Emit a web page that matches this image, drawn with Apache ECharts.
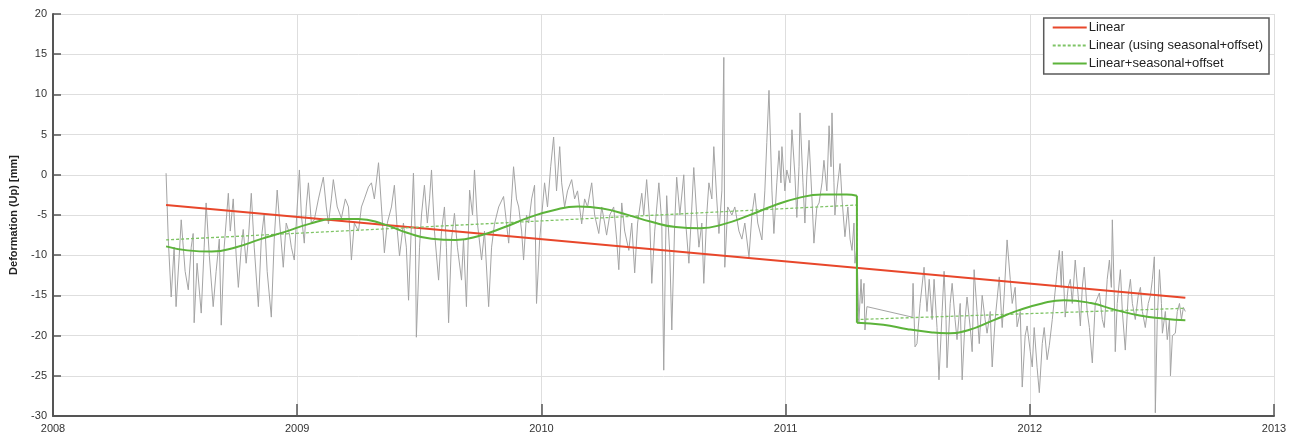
<!DOCTYPE html>
<html><head><meta charset="utf-8">
<script src="https://cdn.jsdelivr.net/npm/echarts@6/dist/echarts.min.js"></script>
<style>html,body{margin:0;padding:0;background:#fff}#c{width:1298px;height:437px}</style>
</head><body><div id="c"></div>
<script>
const noiseT = [2008.463,2008.472,2008.484,2008.496,2008.504,2008.517,2008.525,2008.541,2008.554,2008.566,2008.574,2008.578,2008.590,2008.607,2008.619,2008.627,2008.640,2008.656,2008.668,2008.681,2008.689,2008.701,2008.718,2008.726,2008.738,2008.750,2008.759,2008.771,2008.779,2008.791,2008.800,2008.812,2008.824,2008.841,2008.853,2008.865,2008.877,2008.894,2008.906,2008.918,2008.931,2008.943,2008.955,2008.968,2008.976,2008.988,2009.000,2009.009,2009.017,2009.029,2009.037,2009.046,2009.058,2009.070,2009.087,2009.107,2009.119,2009.128,2009.140,2009.148,2009.164,2009.181,2009.197,2009.210,2009.222,2009.234,2009.251,2009.263,2009.275,2009.292,2009.304,2009.316,2009.333,2009.345,2009.357,2009.369,2009.386,2009.398,2009.410,2009.419,2009.435,2009.447,2009.456,2009.468,2009.476,2009.484,2009.488,2009.501,2009.509,2009.521,2009.533,2009.542,2009.550,2009.562,2009.579,2009.591,2009.603,2009.611,2009.620,2009.632,2009.644,2009.656,2009.673,2009.681,2009.693,2009.702,2009.706,2009.718,2009.726,2009.738,2009.755,2009.767,2009.784,2009.796,2009.808,2009.825,2009.845,2009.857,2009.866,2009.878,2009.886,2009.898,2009.907,2009.919,2009.927,2009.939,2009.948,2009.960,2009.972,2009.980,2009.993,2010.013,2010.025,2010.038,2010.050,2010.062,2010.075,2010.083,2010.095,2010.107,2010.124,2010.136,2010.148,2010.165,2010.177,2010.189,2010.206,2010.218,2010.235,2010.247,2010.259,2010.267,2010.280,2010.296,2010.308,2010.317,2010.329,2010.341,2010.358,2010.370,2010.382,2010.394,2010.411,2010.419,2010.431,2010.444,2010.452,2010.464,2010.481,2010.493,2010.501,2010.509,2010.513,2010.526,2010.534,2010.546,2010.554,2010.567,2010.583,2010.591,2010.604,2010.616,2010.624,2010.636,2010.645,2010.657,2010.665,2010.677,2010.686,2010.698,2010.706,2010.718,2010.727,2010.739,2010.747,2010.751,2010.763,2010.780,2010.792,2010.809,2010.821,2010.833,2010.850,2010.862,2010.874,2010.886,2010.903,2010.915,2010.923,2010.932,2010.944,2010.952,2010.964,2010.973,2010.981,2010.985,2010.997,2011.005,2011.018,2011.026,2011.038,2011.046,2011.055,2011.059,2011.071,2011.079,2011.087,2011.096,2011.108,2011.116,2011.128,2011.137,2011.149,2011.157,2011.169,2011.178,2011.186,2011.190,2011.198,2011.202,2011.210,2011.223,2011.231,2011.243,2011.255,2011.264,2011.272,2011.280,2011.284,2011.292,2011.300,2011.309,2011.313,2011.321,2011.325,2011.333,2011.518,2011.522,2011.530,2011.538,2011.551,2011.567,2011.579,2011.588,2011.600,2011.608,2011.620,2011.628,2011.641,2011.649,2011.657,2011.661,2011.674,2011.682,2011.694,2011.702,2011.715,2011.723,2011.735,2011.743,2011.756,2011.764,2011.772,2011.784,2011.793,2011.805,2011.817,2011.825,2011.838,2011.846,2011.858,2011.875,2011.887,2011.895,2011.907,2011.920,2011.928,2011.940,2011.948,2011.961,2011.969,2011.981,2011.989,2012.002,2012.010,2012.018,2012.030,2012.039,2012.051,2012.059,2012.071,2012.080,2012.092,2012.100,2012.112,2012.121,2012.129,2012.133,2012.145,2012.157,2012.166,2012.174,2012.186,2012.198,2012.207,2012.215,2012.223,2012.235,2012.244,2012.256,2012.268,2012.285,2012.297,2012.305,2012.317,2012.326,2012.334,2012.338,2012.346,2012.350,2012.358,2012.371,2012.379,2012.391,2012.403,2012.412,2012.420,2012.432,2012.444,2012.453,2012.461,2012.473,2012.485,2012.494,2012.502,2012.510,2012.514,2012.522,2012.531,2012.539,2012.543,2012.555,2012.563,2012.572,2012.576,2012.584,2012.596,2012.604,2012.613,2012.621,2012.629,2012.637];
const noiseV = [0.2,-8,-15.2,-9,-16.4,-10,-5.6,-12,-14.3,-9,-7.3,-18.4,-11,-17.2,-9,-3.5,-10,-16.4,-12,-8,-18.7,-9,-2.3,-7,-3,-10,-14,-9,-6.8,-11,-8,-2.3,-9,-16.4,-8,-4.8,-12,-17.7,-8,-1.9,-7,-11.5,-6,-7.3,-9,-10.6,-4,0.6,-5,-8.5,-4,-1,-6,-5.6,-3,-0.3,-4,-6.1,-3,-0.6,-4,-5.4,-3,-4,-10.6,-6,-7,-4,-3,-1.5,-1,-3,1.5,-4,-9.7,-6,-4,-1.3,-7,-10.1,-6,-9,-15.6,-6,0.2,-8,-20.2,-9,-5,-1.3,-6,-3,0.6,-7,-13.1,-7,-4,-9,-18.4,-8,-4.8,-9,-13.1,-8,-16.4,-6,-1.9,-5,0.6,-6,-10.6,-7,-16.4,-9,-6.1,-4,-2.7,-6,-8.5,-3,1,-3,-4,-7,-10.6,-5,-6,-3,-1.3,-16,-8,-1,-4,1,4.7,-2,3.5,-1,-4,-2,-0.6,-3,-2,-6.1,-3,-4,-1,-5,-7.3,-4,-6,-7.5,-5,-4,-8,-11.8,-3.5,-7,-9.4,-6,-12.2,-6,-2.3,-5,-0.6,-6,-13.5,-7,-1,-6,-24.3,-8,-2.6,-10,-19.3,-6,-0.3,-5,0,-6,-11,-4,0.9,-5,-9,-6,-13.5,-5,-1,-3,3.5,-3,-7.3,-2,14.6,-11.5,-4,-5,-4,-7,-8,-6,-10.2,-5,-2.3,-6,-8.1,-2,4,10.5,-2,-7.3,-1,3,-1,3.5,-2,0.6,-1,5.6,0,-5.3,1,7.7,-1,-6,0,4.3,-3,-8.5,-4,-3.5,-1,1.8,-2,6.1,1,7.7,-1,-5,-2,1.4,-3,-7.7,-4,-8,-9.4,-6,-11,-9,-18.4,-13,-16,-13.5,-19.3,-16.4,-17.7,-13.5,-21.4,-21,-16,-11.5,-17,-13,-18,-13,-19,-25.5,-17,-12,-18,-24,-16,-13.5,-18,-20.5,-16,-25.5,-18,-15.2,-19,-22,-11.8,-17,-21,-15,-18,-19.7,-17,-23.9,-18,-12.7,-19,-15,-8.1,-13,-16,-14,-18.9,-17,-26.4,-20,-18.8,-22,-23.9,-19,-24,-27.1,-21,-19,-23,-21.2,-18,-15.6,-12,-9.4,-14,-9.5,-17.7,-14,-13,-16,-10.6,-15,-18.8,-14,-11.5,-17,-19,-23.4,-16,-14.7,-18,-19,-13,-10.6,-14,-5.6,-15,-22,-16,-11.8,-17,-21.8,-15,-13,-16,-18,-15,-14,-17,-19,-16,-15,-13,-10.2,-29.6,-18,-11.8,-16,-19.7,-17,-20.5,-18,-25,-20,-19.7,-17,-16,-18,-16.5,-17];

// Linear fit
const linT = [2008.463, 2012.637];
const linV = [-3.75, -15.3];

// Linear (using seasonal+offset)
const seasLinT = [2008.463, 2011.292, 2011.292, 2012.637];
const seasLinV = [-8.1, -3.75, -18.0, -16.6];

// Linear+seasonal+offset, before and after the offset
const fullPreT = [2008.463,2008.55,2008.65,2008.75,2008.85,2008.95,2009.05,2009.15,2009.25,2009.35,2009.45,2009.55,2009.65,2009.75,2009.85,2009.95,2010.05,2010.15,2010.25,2010.35,2010.45,2010.55,2010.65,2010.75,2010.85,2010.95,2011.05,2011.15,2011.25,2011.292];
const fullPreV = [-8.9,-9.4,-9.55,-9.0,-8.0,-7.1,-6.1,-5.5,-5.5,-6.1,-7.2,-7.95,-8.1,-7.55,-6.5,-5.3,-4.4,-3.95,-4.2,-4.95,-5.85,-6.5,-6.65,-6.1,-5.05,-3.85,-2.9,-2.45,-2.45,-2.6];
const fullPostT = [2011.292,2011.4,2011.5,2011.6,2011.66,2011.75,2011.85,2011.95,2012.05,2012.14,2012.25,2012.35,2012.45,2012.55,2012.637];
const fullPostV = [-18.4,-18.65,-19.2,-19.6,-19.7,-19.3,-18.1,-16.9,-16.0,-15.6,-15.95,-16.8,-17.5,-17.9,-18.1];

const xTicks = [2008, 2013, 1];
const yTicks = [-30, 20, 5];

const zip = (t, v) => t.map((x, i) => [x, v[i]]);
const FONT = 'Liberation Sans, Arial, Helvetica, sans-serif';
const GREEN = '#5cb33a';
const stepT = [fullPreT[fullPreT.length-1], fullPostT[0]];
const stepV = [fullPreV[fullPreV.length-1], fullPostV[0]];

const chart = echarts.init(document.getElementById('c'), null, {renderer: 'canvas'});
chart.setOption({
  animation: false,
  backgroundColor: '#fff',
  textStyle: {fontFamily: FONT},
  grid: {left: 52, right: 24, top: 14, bottom: 21, containLabel: false},
  legend: {
    right: 29, top: 18, orient: 'vertical',
    data: ['Linear', 'Linear (using seasonal+offset)', 'Linear+seasonal+offset'],
    itemWidth: 34, itemHeight: 13, itemGap: 5,
    padding: [3, 6, 4, 8],
    itemStyle: {opacity: 0},
    borderColor: '#5a5a5a', borderWidth: 1.5, backgroundColor: '#fff',
    textStyle: {fontSize: 13, color: '#222', fontFamily: FONT, padding: [0,0,0,-3]}
  },
  xAxis: {
    type: 'value', min: xTicks[0], max: xTicks[1], interval: xTicks[2],
    axisLine: {onZero: false, lineStyle: {color: '#555', width: 2}},
    axisTick: {inside: true, length: 12, lineStyle: {color: '#555', width: 1.5}},
    axisLabel: {fontSize: 11, color: '#333', margin: 7, formatter: v => String(v)},
    splitLine: {show: true, lineStyle: {color: '#dedede', width: 1}}
  },
  yAxis: {
    type: 'value', min: yTicks[0], max: yTicks[1], interval: yTicks[2],
    name: 'Deformation (Up) [mm]', nameLocation: 'middle', nameGap: 34,
    nameTextStyle: {fontSize: 11, fontWeight: 'bold', color: '#222', fontFamily: FONT},
    axisLine: {show: true, onZero: false, lineStyle: {color: '#555', width: 2}},
    axisTick: {show: true, inside: true, length: 8, lineStyle: {color: '#555', width: 1.5}},
    axisLabel: {fontSize: 11, color: '#333', margin: 6},
    splitLine: {show: true, lineStyle: {color: '#dedede', width: 1}}
  },
  series: [
    {name: 'obs', type: 'line', data: zip(noiseT, noiseV), symbol: 'none',
     lineStyle: {color: '#a4a4a4', width: 1}, itemStyle: {color: '#a4a4a4'}, z: 1},
    {name: 'Linear', type: 'line', data: zip(linT, linV), symbol: 'none',
     lineStyle: {color: '#e8472b', width: 2}, itemStyle: {color: '#e8472b'}, z: 3},
    {name: 'Linear (using seasonal+offset)', type: 'line', data: zip(seasLinT, seasLinV), symbol: 'none',
     lineStyle: {color: '#7fc466', width: 1.3, type: [3, 2]}, itemStyle: {color: '#7fc466'}, z: 4},
    {name: 'Linear+seasonal+offset', type: 'line', data: zip(fullPreT, fullPreV), symbol: 'none', smooth: 0.5,
     lineStyle: {color: GREEN, width: 2}, itemStyle: {color: GREEN}, z: 5},
    {name: 'Linear+seasonal+offset', type: 'line', data: zip(stepT, stepV), symbol: 'none',
     lineStyle: {color: GREEN, width: 2}, itemStyle: {color: GREEN}, z: 5},
    {name: 'Linear+seasonal+offset', type: 'line', data: zip(fullPostT, fullPostV), symbol: 'none', smooth: 0.5,
     lineStyle: {color: GREEN, width: 2}, itemStyle: {color: GREEN}, z: 5}
  ]
});
</script></body></html>
